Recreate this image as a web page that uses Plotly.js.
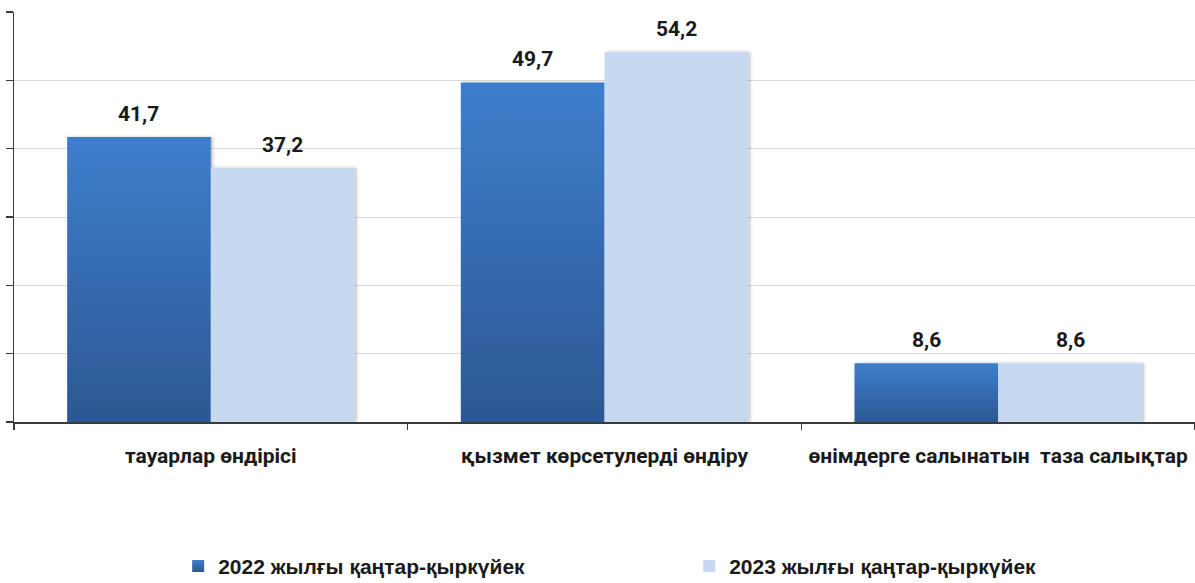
<!DOCTYPE html>
<html>
<head>
<meta charset="utf-8">
<script src="https://cdn.plot.ly/plotly-3.0.1.min.js"></script>
<style>
html,body{margin:0;padding:0;background:#fff;}
#chart{width:1195px;height:583px;}
</style>
</head>
<body>
<div id="chart"></div>
<script>
const categories = ["тауарлар өндірісі", "қызмет көрсетулерді өндіру", "өнімдерге салынатын\u00a0 таза салықтар"];
const series2022 = [41.7, 49.7, 8.6];
const series2023 = [37.2, 54.2, 8.6];
const seriesNames = ["2022 жылғы қаңтар-қыркүйек", "2023 жылғы қаңтар-қыркүйек"];
const yTicks = [0, 10, 20, 30, 40, 50, 60];

const fmt = v => v.toFixed(1).replace('.', ',');

const traces = [
  {type: 'bar', name: seriesNames[0], x: categories, y: series2022,
   marker: {color: '#3670b8', line: {width: 0}}, hoverinfo: 'skip'},
  {type: 'bar', name: seriesNames[1], x: categories, y: series2023,
   marker: {color: '#c6d9f0', line: {width: 0}}, hoverinfo: 'skip'}
];

const annFont = {family: 'Roboto, Arial, sans-serif', size: 21, color: '#1a1a1a', weight: 'bold'};
const annotations = [];
categories.forEach((c, i) => {
  annotations.push({x: c, y: series2022[i], text: fmt(series2022[i]), showarrow: false,
    xanchor: 'center', yanchor: 'bottom', xshift: -72, yshift: 9, font: annFont});
  annotations.push({x: c, y: series2023[i], text: fmt(series2023[i]), showarrow: false,
    xanchor: 'center', yanchor: 'bottom', xshift: 72, yshift: 9, font: annFont});
});

const layout = {
  width: 1195, height: 583,
  margin: {l: 14, r: 0, t: 12, b: 161, autoexpand: false},
  paper_bgcolor: '#ffffff', plot_bgcolor: '#ffffff',
  barmode: 'group', bargap: 0.27, bargroupgap: 0,
  showlegend: true,
  separators: ', ',
  xaxis: {
    type: 'category', showline: true, linecolor: '#3a3a3a', linewidth: 1.5,
    ticks: 'outside', tickson: 'boundaries', ticklen: 6, tickcolor: '#3a3a3a', tickwidth: 1.5,
    showgrid: false, zeroline: false, ticklabelstandoff: 14,
    tickfont: {family: 'Roboto, Arial, sans-serif', size: 21, color: '#1a1a1a', weight: 'bold'},
    automargin: false, fixedrange: true
  },
  yaxis: {
    range: [0, 60], tickvals: yTicks, showticklabels: false,
    showline: true, linecolor: '#3a3a3a', linewidth: 1.5,
    ticks: 'outside', ticklen: 7, tickcolor: '#3a3a3a', tickwidth: 1.5,
    showgrid: true, gridcolor: '#d9d9d9', gridwidth: 1, zeroline: false,
    automargin: false, fixedrange: true
  },
  legend: {
    orientation: 'h', x: 0.139, xanchor: 'left', y: -0.352, yanchor: 'middle',
    entrywidth: 466, entrywidthmode: 'pixels',
    font: {family: '"Liberation Sans", Arial, sans-serif', size: 21, color: '#1a1a1a', weight: 'bold'},
    itemclick: false, itemdoubleclick: false, bgcolor: 'rgba(0,0,0,0)'
  },
  annotations: annotations
};

Plotly.newPlot('chart', traces, layout, {displayModeBar: false, staticPlot: true}).then(gd => {
  const svg = gd.querySelector('.main-svg');
  const defs = svg.querySelector('defs');
  const ns = 'http://www.w3.org/2000/svg';
  const grad = document.createElementNS(ns, 'linearGradient');
  grad.setAttribute('id', 'grad2022');
  grad.setAttribute('x1', '0'); grad.setAttribute('y1', '0');
  grad.setAttribute('x2', '0'); grad.setAttribute('y2', '1');
  [['0', '#3e7ecd'], ['1', '#2c5893']].forEach(([o, c]) => {
    const s = document.createElementNS(ns, 'stop');
    s.setAttribute('offset', o); s.setAttribute('stop-color', c);
    grad.appendChild(s);
  });
  defs.appendChild(grad);
  const filt = document.createElementNS(ns, 'filter');
  filt.setAttribute('id', 'barShadow');
  filt.setAttribute('x', '-5%'); filt.setAttribute('y', '-5%');
  filt.setAttribute('width', '115%'); filt.setAttribute('height', '110%');
  filt.innerHTML = '<feDropShadow dx="2" dy="0" stdDeviation="1.5" flood-color="#000" flood-opacity="0.25"/>';
  defs.appendChild(filt);
  const barTraces = gd.querySelectorAll('.barlayer .trace');
  if (barTraces[0]) barTraces[0].querySelectorAll('path').forEach(p => { p.style.fill = 'url(#grad2022)'; });
  barTraces.forEach(t => t.querySelectorAll('.point path').forEach(p => p.setAttribute('filter', 'url(#barShadow)')));
  const legendPts = gd.querySelectorAll('.legend .traces');
  if (legendPts[0]) legendPts[0].querySelectorAll('path').forEach(p => { p.style.fill = 'url(#grad2022)'; });
});
</script>
</body>
</html>
